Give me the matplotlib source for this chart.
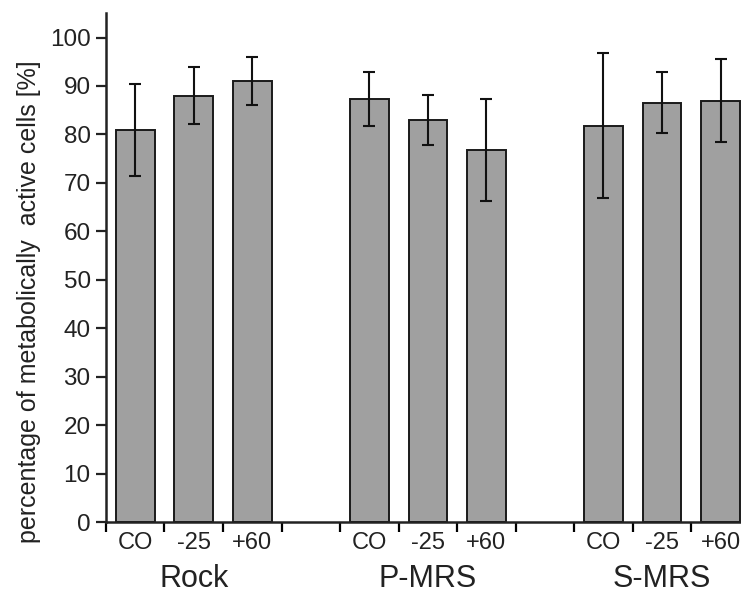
import numpy as np
import matplotlib.pyplot as plt
from matplotlib.transforms import blended_transform_factory

plt.rcParams['font.family'] = ['Liberation Sans', 'DejaVu Sans']

groups = ['Rock', 'P-MRS', 'S-MRS']
treatments = ['CO', '-25', '+60']
values = [81.0, 88.0, 91.0, 87.3, 83.0, 76.8, 81.8, 86.5, 87.0]
errors = [9.5, 5.9, 5.0, 5.6, 5.2, 10.5, 15.0, 6.3, 8.5]

# bar positions: 3 bars then an empty slot per group
pos = []
for g in range(len(groups)):
    for t in range(len(treatments)):
        pos.append(g * 4 + t + 0.5)
pos = np.array(pos)

fig = plt.figure(figsize=(7.41, 6.03), dpi=100)
ax = fig.add_axes([0.143, 0.134, 0.857, 0.844])

ax.bar(pos, values, width=0.66, color='#a0a0a0', edgecolor='#1a1a1a', linewidth=1.4)
ax.errorbar(pos, values, yerr=errors, fmt='none', ecolor='#111111',
            elinewidth=1.5, capsize=4, capthick=1.5)

ax.set_xlim(0, 10.85)
ax.set_ylim(0, 105)
ax.set_yticks(np.arange(0, 101, 10))
ax.set_xticks(np.arange(0, 11))
ax.set_xticklabels([])
ax.set_xticks(pos, minor=True)
ax.set_xticklabels(treatments * 3, minor=True)

for s in ['top', 'right']:
    ax.spines[s].set_visible(False)
for s in ['left', 'bottom']:
    ax.spines[s].set_linewidth(1.8)
    ax.spines[s].set_color('#222222')

ax.tick_params(axis='y', which='major', direction='out', length=7, width=1.6,
               labelsize=17.5, pad=4, colors='#222222')
ax.tick_params(axis='x', which='major', direction='out', length=7, width=1.6)
ax.tick_params(axis='x', which='minor', length=0, labelsize=17, pad=7, colors='#222222')

ax.set_ylabel('percentage of metabolically  active cells [%]', fontsize=18,
              color='#222222')
ax.yaxis.set_label_coords(-0.103, (0.5 - 0.134) / 0.844)

tr = blended_transform_factory(ax.transData, fig.transFigure)
for g, name in enumerate(groups):
    ax.text(g * 4 + 1.5, 0.04, name, transform=tr, ha='center', va='center',
            fontsize=22, color='#222222')

fig.savefig('out.png', dpi=100)
